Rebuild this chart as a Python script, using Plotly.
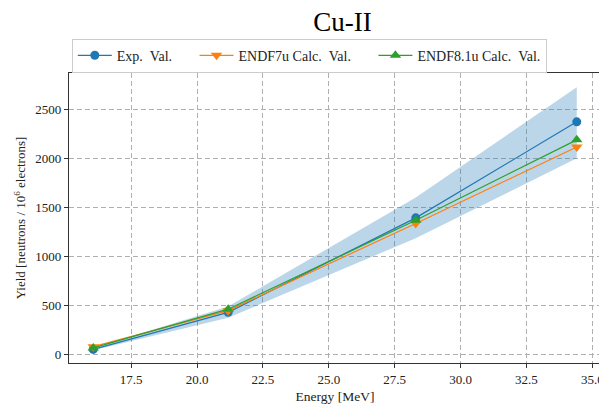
import plotly.graph_objects as go

energy = [16.06, 21.18, 28.30, 34.41]
exp_val = [50, 428, 1392, 2372]
endf7_val = [78, 445, 1335, 2115]
endf8_val = [65, 460, 1368, 2188]
band_upper = [64, 488, 1600, 2725]
band_lower = [42, 372, 1185, 2000]

x_ticks = [17.5, 20.0, 22.5, 25.0, 27.5, 30.0, 32.5, 35.0]
y_ticks = [0, 500, 1000, 1500, 2000, 2500]

FONT = "Liberation Serif"
blue, orange, green = "#1f77b4", "#ff7f0e", "#2ca02c"
NB = "\u00a0"

fig = go.Figure()
fig.add_trace(go.Scatter(x=energy, y=band_upper, mode="lines", line=dict(width=0),
                         showlegend=False, hoverinfo="skip"))
fig.add_trace(go.Scatter(x=energy, y=band_lower, mode="lines", line=dict(width=0),
                         fill="tonexty", fillcolor="rgba(31,119,180,0.3)",
                         showlegend=False, hoverinfo="skip"))
fig.add_trace(go.Scatter(x=energy, y=exp_val, mode="lines+markers",
                         name="Exp." + NB + NB + "Val." + NB * 5,
                         line=dict(color=blue, width=1.2),
                         marker=dict(symbol="circle", size=9, color=blue)))
fig.add_trace(go.Scatter(x=energy, y=endf7_val, mode="lines+markers",
                         name="ENDF7u Calc." + NB + NB + "Val." + NB * 5,
                         line=dict(color=orange, width=1.2),
                         marker=dict(symbol="triangle-down", size=10, color=orange)))
fig.add_trace(go.Scatter(x=energy, y=endf8_val, mode="lines+markers",
                         name="ENDF8.1u Calc." + NB + NB + "Val.",
                         line=dict(color=green, width=1.2),
                         marker=dict(symbol="triangle-up", size=10, color=green)))

axis_common = dict(
    showline=True, linecolor="#333333", linewidth=1.2, mirror=True,
    ticks="outside", ticklen=4, tickcolor="#333333", tickwidth=1,
    showgrid=True, gridcolor="#b0b0b0", gridwidth=1, griddash="5px,3px",
    zeroline=False, tickfont=dict(family=FONT, size=13, color="#222"),
)

# page has an 8px body margin; figure sized to compensate
fig.update_layout(
    width=599, height=397,
    margin=dict(l=61, r=3, t=65, b=42),
    paper_bgcolor="white", plot_bgcolor="white",
    font=dict(family=FONT, size=13, color="#222"),
    title=dict(text="Cu-II", x=0.5584, xanchor="center", y=0.966, yanchor="middle",
               font=dict(family=FONT, size=27, color="black")),
    xaxis=dict(range=[15.14, 35.33], tickvals=x_ticks,
               ticktext=[f"{v:.1f}" for v in x_ticks],
               title=dict(text="Energy [MeV]", standoff=5, font=dict(family=FONT, size=13.5)),
               **axis_common),
    yaxis=dict(range=[-89, 2870], tickvals=y_ticks,
               title=dict(text="Yield [neutrons / 10<sup>6</sup> electrons]", standoff=6,
                          font=dict(family=FONT, size=13)),
               **axis_common),
    legend=dict(orientation="h", traceorder="normal",
                x=0.4517, xanchor="center", y=1.0597, yanchor="middle",
                bgcolor="white", bordercolor="#cccccc", borderwidth=1,
                font=dict(family=FONT, size=14), itemwidth=34),
    showlegend=True,
)

fig.write_html("out.html")
